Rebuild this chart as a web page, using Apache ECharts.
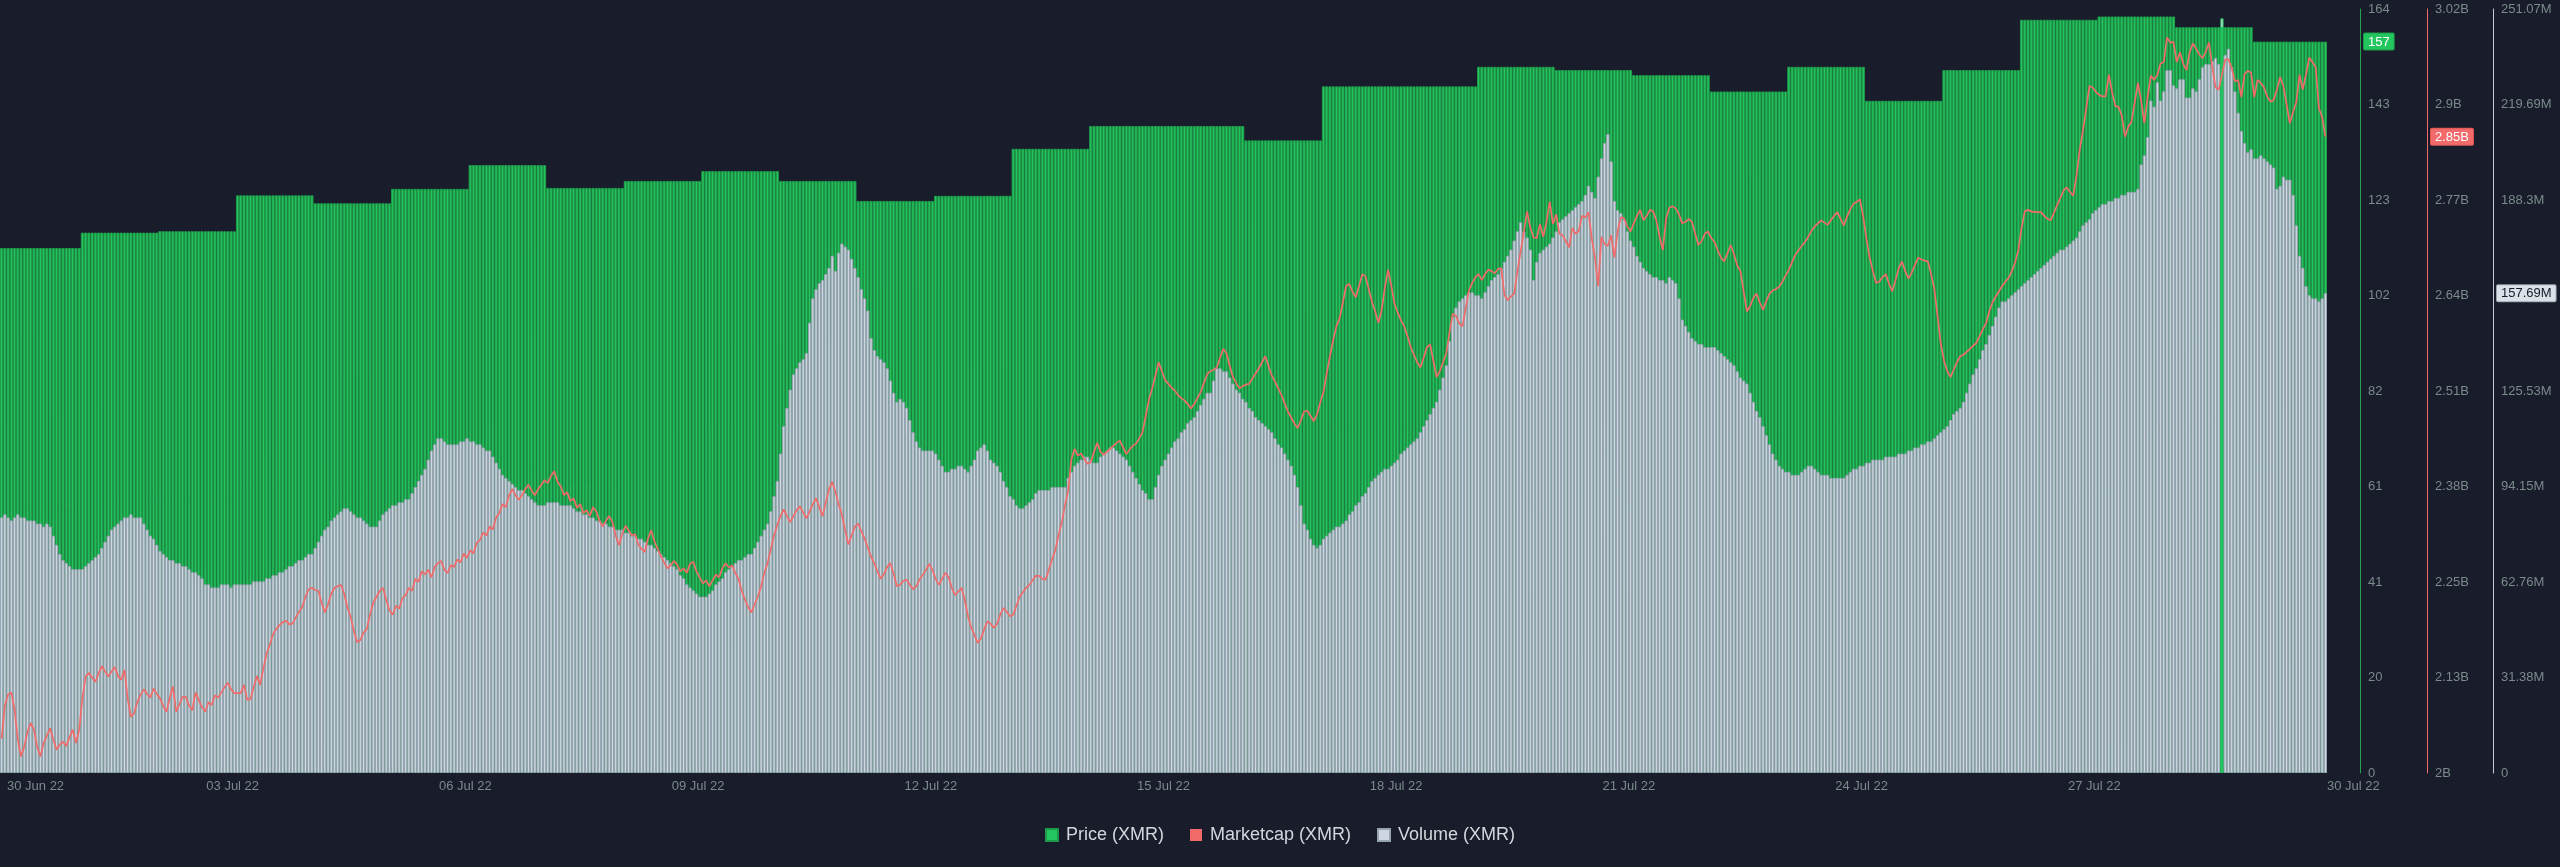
<!DOCTYPE html>
<html><head><meta charset="utf-8">
<script src="https://cdn.jsdelivr.net/npm/echarts@6.0.0/dist/echarts.min.js"></script>
<style>html,body{margin:0;padding:0;background:#181c2b;}#c{width:2560px;height:867px;}</style>
</head><body><div id="c"></div><script>
// ---- tick labels ----
const xTickLabels = ['30 Jun 22','03 Jul 22','06 Jul 22','09 Jul 22','12 Jul 22','15 Jul 22','18 Jul 22','21 Jul 22','24 Jul 22','27 Jul 22','30 Jul 22'];
const priceTickLabels = ['0','20','41','61','82','102','123','143','164'];
const mcapTickLabels = ['2B','2.13B','2.25B','2.38B','2.51B','2.64B','2.77B','2.9B','3.02B'];
const volumeTickLabels = ['0','31.38M','62.76M','94.15M','125.53M','156.91M','188.3M','219.69M','251.07M'];

// ---- series names ----
const seriesNames = ['Price (XMR)','Marketcap (XMR)','Volume (XMR)'];

// ---- daily price (USD), 30 Jun .. 29 Jul ----
const priceDaily = [112.7,116.0,116.3,124.0,122.3,125.4,130.5,125.6,127.1,129.2,127.1,122.8,123.9,134.0,138.9,138.9,135.8,147.4,147.4,151.6,150.9,149.8,146.3,151.6,144.3,150.9,161.7,162.4,160.1,157];

// ---- hourly marketcap (millions USD) ----
const marketcap = [
2046,2090,2105,2108,2085,2045,2022,2035,2055,2067,
2058,2035,2022,2040,2050,2060,2045,2031,2038,2042,
2036,2048,2058,2040,2058,2100,2129,2134,2128,2122,
2133,2143,2136,2129,2136,2142,2130,2125,2138,2100,
2075,2080,2095,2105,2112,2106,2101,2113,2106,2100,
2090,2082,2100,2116,2082,2092,2102,2102,2090,2084,
2108,2098,2088,2082,2095,2091,2104,2101,2108,2115,
2121,2112,2107,2107,2107,2118,2098,2099,2115,2130,
2118,2140,2160,2172,2186,2193,2198,2202,2204,2199,
2200,2208,2216,2222,2236,2246,2248,2245,2244,2228,
2215,2226,2240,2248,2250,2252,2240,2222,2209,2190,
2175,2178,2188,2193,2212,2228,2236,2244,2248,2232,
2218,2212,2224,2220,2234,2238,2248,2244,2260,2256,
2270,2266,2272,2262,2276,2281,2284,2272,2268,2278,
2276,2286,2282,2294,2288,2298,2294,2308,2312,2322,
2318,2330,2326,2342,2348,2360,2356,2372,2380,2372,
2366,2372,2380,2386,2378,2372,2380,2386,2392,2388,
2398,2404,2390,2384,2372,2376,2364,2368,2355,2360,
2348,2352,2344,2356,2350,2338,2330,2338,2344,2336,
2318,2305,2320,2331,2325,2318,2320,2306,2300,2296,
2314,2325,2310,2300,2290,2282,2274,2278,2284,2279,
2270,2274,2268,2280,2283,2270,2262,2254,2258,2250,
2258,2266,2262,2274,2281,2275,2278,2268,2260,2244,
2232,2222,2215,2226,2236,2250,2268,2281,2300,2318,
2332,2344,2353,2344,2336,2344,2352,2357,2349,2341,
2350,2360,2368,2356,2344,2362,2380,2390,2376,2360,
2346,2325,2306,2318,2330,2334,2324,2314,2302,2290,
2281,2270,2260,2266,2276,2281,2267,2250,2252,2257,
2259,2252,2246,2250,2259,2265,2272,2280,2272,2260,
2252,2260,2268,2262,2248,2238,2243,2248,2232,2210,
2195,2185,2174,2180,2192,2203,2200,2194,2200,2212,
2221,2216,2210,2212,2224,2236,2242,2248,2252,2258,
2264,2264,2260,2259,2272,2286,2298,2318,2335,2358,
2378,2420,2434,2425,2428,2420,2414,2416,2430,2442,
2430,2426,2430,2434,2438,2442,2445,2436,2427,2433,
2438,2441,2448,2456,2478,2500,2515,2532,2550,2538,
2526,2521,2516,2512,2506,2502,2499,2494,2488,2494,
2502,2510,2522,2534,2538,2540,2543,2556,2568,2562,
2545,2530,2522,2515,2518,2520,2521,2528,2535,2542,
2550,2558,2545,2532,2524,2515,2506,2495,2484,2476,
2468,2462,2472,2484,2485,2478,2471,2480,2496,2510,
2535,2558,2580,2598,2609,2630,2652,2655,2644,2637,
2652,2668,2665,2648,2631,2618,2603,2620,2650,2674,
2652,2628,2616,2606,2598,2585,2570,2560,2550,2543,
2556,2570,2574,2552,2530,2538,2550,2562,2590,2615,
2612,2602,2598,2622,2646,2656,2664,2668,2660,2668,
2674,2672,2669,2675,2676,2640,2633,2638,2642,2672,
2698,2725,2752,2730,2717,2716,2735,2718,2738,2765,
2735,2748,2722,2720,2712,2704,2730,2722,2726,2746,
2744,2751,2716,2690,2652,2718,2708,2706,2720,2690,
2725,2744,2743,2732,2725,2736,2746,2754,2740,2746,
2754,2752,2740,2718,2700,2742,2757,2759,2756,2748,
2736,2738,2742,2738,2722,2707,2712,2722,2725,2716,
2711,2700,2690,2685,2696,2707,2695,2680,2672,2645,
2618,2625,2636,2642,2630,2620,2632,2642,2646,2648,
2651,2658,2666,2674,2684,2694,2700,2706,2711,2718,
2726,2732,2736,2740,2737,2734,2740,2746,2751,2742,
2733,2745,2755,2762,2765,2768,2745,2715,2690,2672,
2656,2658,2664,2668,2655,2645,2660,2676,2685,2672,
2662,2670,2680,2690,2688,2686,2685,2668,2648,2612,
2575,2552,2538,2530,2540,2550,2558,2560,2564,2568,
2572,2576,2585,2594,2602,2618,2630,2638,2645,2652,
2658,2663,2672,2684,2700,2730,2752,2754,2752,2751,
2751,2751,2746,2742,2740,2750,2760,2770,2780,2784,
2778,2773,2800,2835,2860,2890,2920,2918,2912,2908,
2906,2906,2935,2912,2893,2892,2880,2852,2865,2872,
2898,2924,2900,2870,2905,2934,2928,2935,2950,2952,
2985,2978,2979,2952,2965,2950,2941,2965,2977,2970,
2962,2957,2966,2978,2945,2918,2915,2935,2955,2956,
2944,2926,2928,2905,2936,2940,2938,2905,2928,2924,
2918,2906,2899,2901,2915,2932,2920,2895,2870,2885,
2898,2935,2915,2935,2958,2952,2945,2890,2878,2852
];

// ---- hourly volume (millions) ----
const volume = [
84,85,84,83,84,85,84,84,83,83,
83,82,82,81,82,81,78,75,72,70,
69,68,67,67,67,67,68,69,70,71,
72,74,76,78,80,81,82,83,84,84,
85,84,84,84,82,80,78,77,75,73,
72,71,70,70,69,69,68,68,67,66,
66,65,64,62,62,61,61,61,62,62,
62,61,62,62,62,62,62,62,63,63,
63,63,64,64,65,65,66,66,67,68,
68,69,70,70,71,72,72,74,76,78,
80,81,83,84,85,86,87,87,86,85,
84,84,83,82,81,81,81,83,85,86,
87,88,88,89,89,90,90,92,94,96,
98,100,103,106,108,110,110,109,108,108,
108,108,109,109,110,109,109,108,108,107,
106,106,104,102,100,98,97,96,95,94,
93,93,92,91,90,89,88,88,88,89,
89,89,89,88,88,88,88,87,86,86,
85,85,84,84,83,83,82,82,81,81,
80,80,80,79,79,78,78,77,77,76,
75,75,74,73,72,71,70,69,68,67,
65,64,62,61,60,59,58,58,58,59,
60,62,63,64,66,67,68,69,70,70,
71,72,72,74,76,78,80,82,86,91,
96,105,114,120,126,131,133,135,136,138,
148,156,159,161,162,164,166,170,165,171,
174,173,172,169,166,163,159,156,152,143,
139,137,136,135,133,129,125,122,123,122,
120,116,112,109,107,106,106,106,106,105,
103,101,99,99,100,100,101,101,100,99,
101,103,106,107,108,106,103,102,101,99,
96,94,91,90,88,87,87,88,89,90,
92,93,93,93,93,94,94,94,94,94,
97,99,101,102,103,104,104,103,102,102,
104,105,106,107,107,106,105,104,103,101,
99,97,95,93,92,90,90,94,98,101,
103,105,107,109,110,112,113,115,116,117,
119,121,123,125,125,129,133,133,132,132,
130,128,126,125,123,122,120,119,117,116,
115,114,113,112,110,108,107,105,103,101,
98,94,88,82,80,77,75,74,75,77,
78,79,80,81,81,82,83,85,86,88,
89,91,92,94,96,97,98,99,100,100,
101,102,103,105,106,107,108,109,110,112,
114,116,118,120,122,126,130,134,142,150,
153,155,156,157,158,158,157,157,156,158,
160,162,163,164,166,168,170,172,175,178,
181,178,176,172,162,168,171,172,173,174,
176,178,181,182,183,184,185,186,187,188,
190,193,191,189,196,202,207,210,201,188,
185,184,182,178,175,173,170,168,166,165,
164,163,163,162,162,161,163,162,161,156,
149,147,145,143,142,141,141,140,140,140,
140,139,138,137,136,135,134,132,130,129,
128,125,122,119,117,114,111,108,105,103,
101,100,99,99,98,98,98,99,100,101,
101,100,99,98,98,98,97,97,97,97,
97,98,99,100,100,101,101,102,102,103,
103,103,103,104,104,104,104,105,105,105,
106,106,107,107,108,108,109,109,110,111,
112,113,114,116,118,119,120,122,125,128,
131,133,136,139,141,144,147,150,153,155,
155,156,157,158,159,160,161,162,163,164,
165,166,167,168,169,170,171,172,172,173,
174,175,176,178,180,181,182,184,185,186,
187,187,188,188,189,189,190,190,191,191,
191,192,200,203,209,221,219,227,221,224,
231,231,226,225,228,228,222,222,225,224,
228,232,233,233,234,235,233,248,236,238,
232,224,217,211,207,204,205,202,202,203,
202,201,200,199,192,193,196,195,195,190,
180,170,166,160,157,156,156,155,156,157.69
];

// hour whose volume bar is drawn behind the price bar in the reference
const highlightHour = 687;

// ---- build options ----
const HOURS = marketcap.length;
const PRICE_MAX = 164, MCAP_MIN = 2000, MCAP_MAX = 3023, VOL_MAX = 251.07;
const FONT = 'Liberation Sans, Arial, Helvetica, sans-serif';
const LABEL_COLOR = '#7b8a8b';
const GREEN = '#22c55e', RED = '#f26b6b', GREY = '#cfd8e2';

const dayOfHour = h => (h === 0 ? 0 : Math.floor((h - 1) / 24));
const priceData = [], volData = [], mcapData = [];
for (let h = 0; h < HOURS; h++) {
  const p = priceDaily[dayOfHour(h)];
  priceData.push([h + 0.5, p]);
  mcapData.push([h + 0.5, marketcap[h]]);
  if (h === highlightHour) {
    const pv = p / PRICE_MAX * VOL_MAX;
    const f = Math.max(0, (volume[h] - pv) / volume[h]);
    volData.push({value: [h + 0.5, volume[h]], itemStyle: {
      borderColor: GREEN,
      color: {type: 'linear', x: 0, y: 0, x2: 0, y2: 1, colorStops: [
        {offset: 0, color: GREY}, {offset: f, color: GREY},
        {offset: f, color: GREEN}, {offset: 1, color: GREEN}]}
    }});
  } else {
    volData.push([h + 0.5, volume[h]]);
  }
}

function tickFmt(labels, min, interval) {
  return v => { const i = Math.round((v - min) / interval); return labels[i] !== undefined ? labels[i] : ''; };
}

function yAxisDef(opts) {
  return {
    type: 'value', position: 'right', offset: opts.offset,
    min: opts.min, max: opts.max, interval: (opts.max - opts.min) / 8,
    axisLine: {show: true, onZero: false, lineStyle: {color: opts.lineColor, width: 1}},
    axisTick: {show: false}, splitLine: {show: false},
    axisLabel: {color: LABEL_COLOR, fontSize: 13, fontFamily: FONT, margin: 8,
      formatter: tickFmt(opts.labels, opts.min, (opts.max - opts.min) / 8)},
    axisPointer: {show: true, status: 'show', value: opts.pointerValue, triggerTooltip: false,
      lineStyle: {opacity: 0},
      label: {show: true, margin: 4, fontSize: 13, fontFamily: FONT,
        color: opts.pointerText, backgroundColor: opts.pointerBg,
        borderColor: opts.pointerBorder, borderWidth: 1, borderRadius: 1,
        padding: [2, 4, 1, 4], formatter: p => opts.pointerFmt(p.value)}}
  };
}

const option = {
  backgroundColor: '#181c2b',
  animation: false,
  textStyle: {fontFamily: FONT},
  grid: {left: 0, right: 233, top: 9, bottom: 94, containLabel: false},
  legend: {
    data: seriesNames, top: 821, left: 'center', icon: 'rect',
    itemWidth: 12, itemHeight: 12, itemGap: 26,
    textStyle: {color: '#d3d7dd', fontSize: 18, fontFamily: FONT, padding: [0, 0, 0, 3]}
  },
  xAxis: {
    type: 'value', min: 0, max: HOURS, interval: 72,
    axisLine: {show: false, onZero: false}, axisTick: {show: false}, splitLine: {show: false},
    axisLabel: {
      color: LABEL_COLOR, fontSize: 13, fontFamily: FONT, margin: 7,
      alignMinLabel: 'left', alignMaxLabel: 'left',
      formatter: v => { const i = Math.round(v / 72); return i === 0 ? '{first|' + xTickLabels[0] + '}' : (xTickLabels[i] || ''); },
      rich: {first: {padding: [0, 0, 0, 7], color: LABEL_COLOR, fontSize: 13, fontFamily: FONT}}
    }
  },
  yAxis: [
    yAxisDef({offset: 33, min: 0, max: PRICE_MAX, labels: priceTickLabels, lineColor: '#23a24c',
      pointerValue: priceDaily[priceDaily.length - 1], pointerBg: GREEN, pointerText: '#ffffff', pointerBorder: '#1e9a48',
      pointerFmt: v => String(Math.round(v))}),
    yAxisDef({offset: 100, min: MCAP_MIN, max: MCAP_MAX, labels: mcapTickLabels, lineColor: RED,
      pointerValue: marketcap[HOURS - 1], pointerBg: RED, pointerText: '#ffffff', pointerBorder: '#e05555',
      pointerFmt: v => (v / 1000).toFixed(2) + 'B'}),
    yAxisDef({offset: 166, min: 0, max: VOL_MAX, labels: volumeTickLabels, lineColor: '#c3cbd4',
      pointerValue: volume[HOURS - 1], pointerBg: '#dbe1e8', pointerText: '#151927', pointerBorder: '#9aa4ae',
      pointerFmt: v => v.toFixed(2) + 'M'})
  ],
  series: [
    {name: seriesNames[0], type: 'bar', yAxisIndex: 0, data: priceData, silent: true,
      barCategoryGap: '0%', barGap: '-100%',
      itemStyle: {color: GREEN, borderColor: '#1f9a49', borderWidth: 1}},
    {name: seriesNames[2], type: 'bar', yAxisIndex: 2, data: volData, silent: true,
      barCategoryGap: '0%', barGap: '-100%',
      itemStyle: {color: GREY, borderColor: '#97a4b1', borderWidth: 1}},
    {name: seriesNames[1], type: 'line', yAxisIndex: 1, data: mcapData, silent: true,
      showSymbol: false, symbol: 'none',
      lineStyle: {color: RED, width: 1.7}, itemStyle: {color: RED}}
  ]
};

const chart = echarts.init(document.getElementById('c'), null, {renderer: 'canvas'});
chart.setOption(option);
</script></body></html>
